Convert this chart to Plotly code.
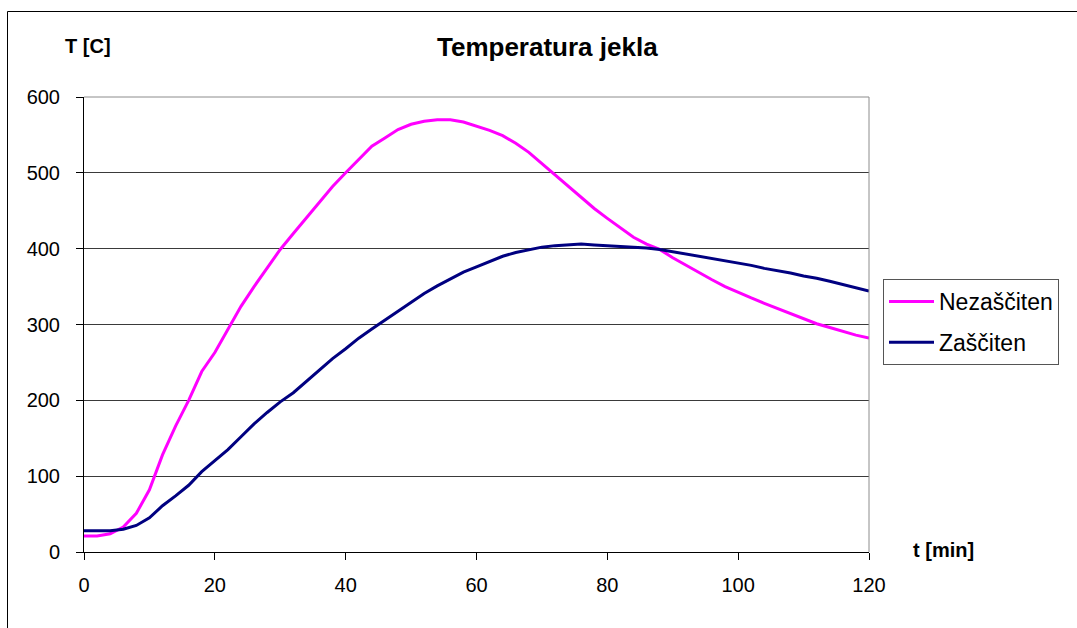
import plotly.graph_objects as go

time_min = list(range(0, 121, 2))

nezasciten = [21, 21, 24, 33, 51, 82, 128, 166, 200, 238,
              263, 294, 324, 350, 375, 399, 420, 441, 462, 482,
              500, 518, 535, 546, 557, 564, 568, 570, 570, 567,
              562, 556, 549, 539, 527, 512, 497, 482, 467, 453,
              440, 427, 415, 406, 399, 388, 378, 368, 359, 350,
              342, 335, 328, 321, 314, 307, 301, 296, 291, 286, 282]

zasciten = [28, 28, 28, 30, 35, 45, 61, 74, 88, 106,
            120, 135, 152, 169, 184, 198, 210, 225, 240, 255,
            268, 282, 294, 306, 318, 330, 341, 351, 360, 369,
            376, 383, 390, 395, 399, 402, 404, 405, 406, 405,
            404, 403, 402, 401, 399, 396, 393, 390, 387, 384,
            381, 378, 374, 371, 368, 364, 361, 357, 353, 349, 344]

series_names = ["Nezaščiten", "Zaščiten"]
series_colors = ["#FF00FF", "#000080"]

x_ticks = [0, 20, 40, 60, 80, 100, 120]
y_ticks = [0, 100, 200, 300, 400, 500, 600]

FONT = "Liberation Sans, Arial, sans-serif"

fig = go.Figure()
for i, (name, vals) in enumerate(zip(series_names, [nezasciten, zasciten])):
    fig.add_trace(go.Scatter(
        x=time_min, y=vals, mode="lines", name=name,
        line=dict(color=series_colors[i], width=3),
        legendgroup=str(i),
    ))

W, H = 1077, 628
L, R, T, B = 84, 869, 97, 552
pw, ph = R - L, B - T

def px(xp):
    return (xp - L) / pw

def py(yp):
    return (B - yp) / ph

fig.update_layout(
    width=W, height=H,
    margin=dict(l=L, r=W - R, t=T, b=H - B, pad=0),
    paper_bgcolor="white", plot_bgcolor="white",
    font=dict(family=FONT, size=20, color="black"),
    showlegend=True,
    legend=dict(
        x=px(883), y=py(279), xanchor="left", yanchor="top",
        bordercolor="#555555", borderwidth=1, bgcolor="white",
        font=dict(family=FONT, size=23, color="black"),
        tracegroupgap=8, itemwidth=45,
    ),
    xaxis=dict(
        range=[0, 120], tickvals=x_ticks, showgrid=False, zeroline=False,
        showline=True, linecolor="black", linewidth=1,
        ticks="outside", ticklen=7, tickcolor="black",
        tickfont=dict(family=FONT, size=20, color="black"),
        ticklabelstandoff=8,
    ),
    yaxis=dict(
        range=[0, 600], tickvals=y_ticks, showgrid=True, gridcolor="#3a3a3a",
        gridwidth=1, zeroline=False,
        showline=True, linecolor="black", linewidth=1,
        ticks="outside", ticklen=7, tickcolor="black",
        tickfont=dict(family=FONT, size=20, color="black"),
        ticklabelstandoff=12,
    ),
    shapes=[
        dict(type="line", xref="paper", yref="paper", x0=0, x1=1, y0=1, y1=1,
             line=dict(color="#8c8c8c", width=1), layer="above"),
        dict(type="line", xref="paper", yref="paper", x0=1, x1=1, y0=0, y1=1,
             line=dict(color="#8c8c8c", width=1), layer="above"),
        dict(type="line", xref="paper", yref="paper", x0=px(7.5), x1=px(1077), y0=py(11.5), y1=py(11.5),
             line=dict(color="black", width=1)),
        dict(type="line", xref="paper", yref="paper", x0=px(7.5), x1=px(7.5), y0=py(11.5), y1=py(628),
             line=dict(color="black", width=1)),
    ],
    annotations=[
        dict(text="<b>Temperatura jekla</b>", xref="paper", yref="paper",
             x=px(547), y=py(47), xanchor="center", yanchor="middle", showarrow=False,
             font=dict(family=FONT, size=26, color="black")),
        dict(text="<b>T [C]</b>", xref="paper", yref="paper",
             x=px(63), y=py(46), xanchor="left", yanchor="middle", showarrow=False,
             font=dict(family=FONT, size=20, color="black")),
        dict(text="<b>t [min]</b>", xref="paper", yref="paper",
             x=px(911), y=py(550), xanchor="left", yanchor="middle", showarrow=False,
             font=dict(family=FONT, size=20, color="black")),
    ],
)

fig.write_html(
    "out.html",
    config={"displayModeBar": False},
    post_script="document.body.style.margin='0';document.body.style.overflow='hidden';",
)
